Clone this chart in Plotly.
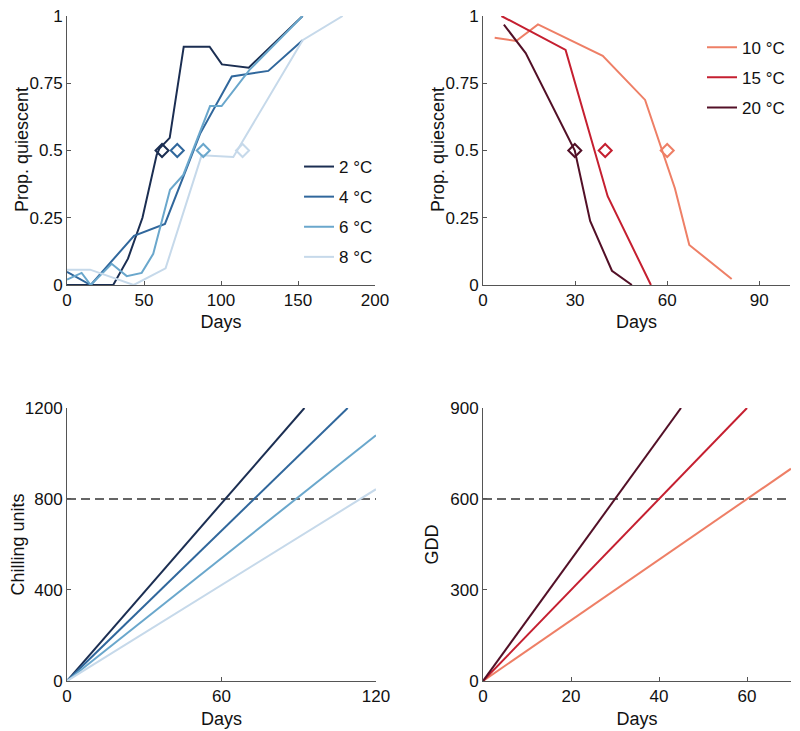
import plotly.graph_objects as go

# ---------------- data ----------------
# Top-left: proportion quiescent vs days (chilling temperatures)
chill_labels = ["2 °C", "4 °C", "6 °C", "8 °C"]
chill_colors = ["#1b2e52", "#30679c", "#6aa7cc", "#c6d9ea"]

days_2C = [0, 30, 39.6, 49, 58.2, 60, 66.7, 75.8, 92.6, 100.6, 118, 153]
prop_2C = [0, 0, 0.098, 0.25, 0.483, 0.507, 0.547, 0.886, 0.886, 0.82, 0.808, 1.0]

days_4C = [0, 15.4, 43.5, 63.6, 86.4, 107, 130.7, 153]
prop_4C = [0.049, 0, 0.183, 0.227, 0.562, 0.775, 0.796, 0.91]

days_6C = [0, 9.5, 15.4, 29, 38.8, 48.5, 56, 66.9, 75.5, 92.9, 100.4, 118.5, 153]
prop_6C = [0.02, 0.045, 0, 0.079, 0.033, 0.045, 0.116, 0.354, 0.409, 0.665, 0.665, 0.80, 1.0]

days_8C = [0, 15, 43.3, 64, 87.4, 108, 153, 179]
prop_8C = [0.057, 0.057, 0, 0.062, 0.482, 0.476, 0.91, 1.0]

chill_half_days = [61.7, 71.6, 88.5, 114]
half_prop = 0.5

# Top-right: proportion quiescent vs days (forcing temperatures)
force_labels = ["10 °C", "15 °C", "20 °C"]
force_colors = ["#ee7f66", "#c51f30", "#531027"]

days_10C = [3.8, 10.8, 17.9, 39, 52.8, 62.5, 67.2, 81]
prop_10C = [0.919, 0.907, 0.969, 0.852, 0.688, 0.36, 0.149, 0.022]

days_15C = [6, 26.9, 40.6, 54.7]
prop_15C = [1.0, 0.874, 0.33, 0.0]

days_20C = [6.8, 13.9, 29.9, 34.9, 42, 48.5]
prop_20C = [0.968, 0.862, 0.5, 0.238, 0.053, 0.0]

force_half_days = [60, 39.8, 29.9]

# Bottom-left: chilling units accumulation (start and end points), 2/4/6/8 °C
chill_line_days = [[0, 92.2], [0, 109], [0, 120], [0, 120]]
chill_line_units = [[0, 1200], [0, 1200], [0, 1080], [0, 843]]
chill_threshold = 800

# Bottom-right: growing degree days accumulation, 10/15/20 °C
gdd_line_days = [[0, 70], [0, 60], [0, 45]]
gdd_line_values = [[0, 700], [0, 900], [0, 900]]
gdd_threshold = 600

# ---------------- figure ----------------
FONT = "Liberation Sans, Arial, Helvetica, sans-serif"
fig = go.Figure()

chill_days = [days_2C, days_4C, days_6C, days_8C]
chill_props = [prop_2C, prop_4C, prop_6C, prop_8C]
for i in range(4):
    fig.add_trace(go.Scatter(
        x=chill_days[i], y=chill_props[i], mode="lines",
        line=dict(color=chill_colors[i], width=2),
        name=chill_labels[i], legend="legend", legendgroup="c%d" % i,
        xaxis="x", yaxis="y"))
for i in range(4):
    fig.add_trace(go.Scatter(
        x=[chill_half_days[i]], y=[half_prop], mode="markers",
        marker=dict(symbol="diamond-open", size=10, color=chill_colors[i],
                    line=dict(width=2, color=chill_colors[i])),
        showlegend=False, xaxis="x", yaxis="y"))

force_days = [days_10C, days_15C, days_20C]
force_props = [prop_10C, prop_15C, prop_20C]
for i in range(3):
    fig.add_trace(go.Scatter(
        x=force_days[i], y=force_props[i], mode="lines",
        line=dict(color=force_colors[i], width=2),
        name=force_labels[i], legend="legend2", legendgroup="f%d" % i,
        xaxis="x2", yaxis="y2"))
for i in range(3):
    fig.add_trace(go.Scatter(
        x=[force_half_days[i]], y=[half_prop], mode="markers",
        marker=dict(symbol="diamond-open", size=10, color=force_colors[i],
                    line=dict(width=2, color=force_colors[i])),
        showlegend=False, xaxis="x2", yaxis="y2"))

# bottom-left
fig.add_trace(go.Scatter(
    x=[0, 120], y=[chill_threshold, chill_threshold], mode="lines",
    line=dict(color="#333333", width=1.5, dash="9px,5px"),
    showlegend=False, xaxis="x3", yaxis="y3"))
for i in range(4):
    fig.add_trace(go.Scatter(
        x=chill_line_days[i], y=chill_line_units[i], mode="lines",
        line=dict(color=chill_colors[i], width=2),
        showlegend=False, xaxis="x3", yaxis="y3"))

# bottom-right
fig.add_trace(go.Scatter(
    x=[0, 70], y=[gdd_threshold, gdd_threshold], mode="lines",
    line=dict(color="#333333", width=1.5, dash="9px,5px"),
    showlegend=False, xaxis="x4", yaxis="y4"))
for i in range(3):
    fig.add_trace(go.Scatter(
        x=gdd_line_days[i], y=gdd_line_values[i], mode="lines",
        line=dict(color=force_colors[i], width=2),
        showlegend=False, xaxis="x4", yaxis="y4"))

axis_common = dict(
    showline=True, linecolor="#555555", linewidth=1,
    ticks="inside", ticklen=4, tickcolor="#555555",
    showgrid=False, zeroline=False, mirror=False,
    tickfont=dict(family=FONT, size=17, color="#111111"),
    ticklabeloverflow="allow",
    automargin=False,
)


def xax(domain, anchor, rng, tickvals):
    d = dict(axis_common)
    d.update(domain=domain, anchor=anchor, range=rng, tickvals=tickvals,
             title=dict(text="Days", font=dict(family=FONT, size=18, color="#111111"), standoff=6))
    return d


def yax(domain, anchor, rng, tickvals, ticktext, title):
    d = dict(axis_common)
    d.update(domain=domain, anchor=anchor, range=rng, tickvals=tickvals, ticktext=ticktext)
    if title:
        d["title"] = dict(text=title, font=dict(family=FONT, size=18, color="#111111"), standoff=6)
    return d


top = [0.59549, 1.0]
bot = [0.0, 0.41053]
title_font = dict(family=FONT, size=18, color="#111111")

fig.update_layout(
    width=800, height=731,
    margin=dict(l=59, r=17, t=8, b=58),
    paper_bgcolor="white", plot_bgcolor="white",
    font=dict(family=FONT, size=17, color="#111111"),
    xaxis=xax([0, 0.42541], "y", [0, 200], [0, 50, 100, 150, 200]),
    yaxis=yax(top, "x", [0, 1], [0, 0.25, 0.5, 0.75, 1], ["0", "0.25", "0.5", "0.75", "1"], None),
    xaxis2=xax([0.57459, 0.99862], "y2", [0, 100], [0, 30, 60, 90]),
    yaxis2=yax(top, "x2", [0, 1], [0, 0.25, 0.5, 0.75, 1], ["0", "0.25", "0.5", "0.75", "1"], None),
    xaxis3=xax([0, 0.42680], "y3", [0, 120], [0, 60, 120]),
    yaxis3=yax(bot, "x3", [0, 1200], [0, 400, 800, 1200], ["0", "400", "800", "1200"], "Chilling units"),
    xaxis4=xax([0.57459, 1.0], "y4", [0, 70], [0, 20, 40, 60]),
    yaxis4=yax(bot, "x4", [0, 900], [0, 300, 600, 900], ["0", "300", "600", "900"], "GDD"),
    legend=dict(x=0.4296, xanchor="right", y=0.80, yanchor="top",
                bgcolor="rgba(0,0,0,0)", tracegroupgap=5,
                font=dict(family=FONT, size=17, color="#111111")),
    legend2=dict(x=0.99862, xanchor="right", y=0.9794, yanchor="top",
                 bgcolor="rgba(0,0,0,0)", tracegroupgap=5,
                 font=dict(family=FONT, size=17, color="#111111")),
    annotations=[
        dict(text="Prop. quiescent", textangle=-90, xref="paper", yref="paper",
             x=-0.06215, y=0.7985, xanchor="center", yanchor="middle",
             showarrow=False, font=title_font),
        dict(text="Prop. quiescent", textangle=-90, xref="paper", yref="paper",
             x=(438 - 67) / 724, y=0.7985, xanchor="center", yanchor="middle",
             showarrow=False, font=title_font),
    ],
)

fig.write_html("out.html")
